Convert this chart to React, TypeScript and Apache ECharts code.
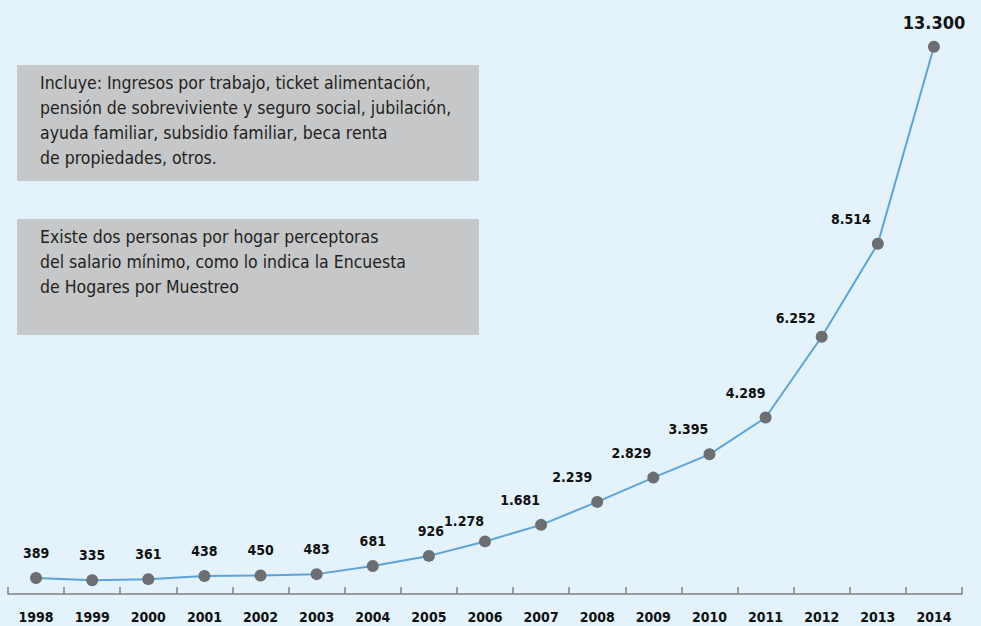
import React, { useEffect, useRef } from "react";
import * as echarts from "echarts";

const years = ["1998","1999","2000","2001","2002","2003","2004","2005","2006","2007","2008","2009","2010","2011","2012","2013","2014"];
const values = [389, 335, 361, 438, 450, 483, 681, 926, 1278, 1681, 2239, 2829, 3395, 4289, 6252, 8514, 13300];
const labelShiftX = [0, 0, 0, 0, 0, 0, 0, 2, -21, -21, -25, -22, -21, -20, -26, -27, 0];
const labelShiftY = [0, 0, 0, 0, 0, 0, 0, 0, 5, 0, 0, 0, 0, 0, 6, 0, 3];
const note1 = [
  "Incluye: Ingresos por trabajo, ticket alimentación,",
  "pensión de sobreviviente y seguro social, jubilación,",
  "ayuda familiar, subsidio familiar, beca renta",
  "de propiedades, otros.",
];
const note2 = [
  "Existe dos personas por hogar perceptoras",
  "del salario mínimo, como lo indica la Encuesta",
  "de Hogares por Muestreo",
];

const FONT = "'Liberation Sans Narrow', 'DejaVu Sans Condensed', 'Roboto', sans-serif";

function fmt(v: number): string {
  return String(v).replace(/\B(?=(\d{3})+(?!\d))/g, ".");
}

export default function App() {
  const ref = useRef<HTMLDivElement>(null);
  useEffect(() => {
    if (!ref.current) return;
    const chart = echarts.init(ref.current, null, { renderer: "svg" });
    const last = values.length - 1;
    const data = values.map((v, i) => ({
      value: v,
      label: {
        offset: [labelShiftX[i], labelShiftY[i]],
        fontSize: i === last ? 18 : 14,
      },
    }));
    const textBlock = (lines: string[], top: number) => ({
      type: "group",
      children: [
        {
          type: "rect",
          shape: { x: 17, y: top, width: 462, height: 116 },
          style: { fill: "#c6c7c9" },
        },
        ...lines.map((l, k) => ({
          type: "text",
          x: 40,
          y: top + 18 + k * 25,
          style: {
            text: l,
            fill: "#231f20",
            font: `17.5px ${FONT}`,
            textVerticalAlign: "middle",
          },
        })),
      ],
    });
    chart.setOption({
      animation: false,
      backgroundColor: "#e4f3fb",
      grid: { left: 8, right: 19, top: 18, bottom: 32, containLabel: false },
      xAxis: {
        type: "category",
        data: years,
        boundaryGap: true,
        axisLine: { show: true, lineStyle: { color: "#808080", width: 1.5 } },
        axisTick: { show: true, length: 7, inside: true, lineStyle: { color: "#808080", width: 1.5 } },
        axisLabel: {
          color: "#111",
          fontFamily: FONT,
          fontWeight: "bold",
          fontSize: 14,
          margin: 16,
          interval: 0,
        },
        splitLine: { show: false },
      },
      yAxis: {
        type: "value",
        min: 0,
        max: 14000,
        show: false,
        splitLine: { show: false },
      },
      series: [
        {
          type: "line",
          data,
          symbol: "circle",
          symbolSize: 12,
          itemStyle: { color: "#6d6e71" },
          lineStyle: { color: "#5ba3dc", width: 2 },
          label: {
            show: true,
            position: "top",
            distance: 12,
            color: "#111",
            fontFamily: FONT,
            fontWeight: "bold",
            formatter: (p: any) => fmt(p.value),
          },
        },
      ],
      graphic: [textBlock(note1, 65), textBlock(note2, 219)],
    });
    return () => chart.dispose();
  }, []);
  return (
    <div
      ref={ref}
      style={{ position: "fixed", left: 0, top: 0, width: 981, height: 626 }}
    />
  );
}
